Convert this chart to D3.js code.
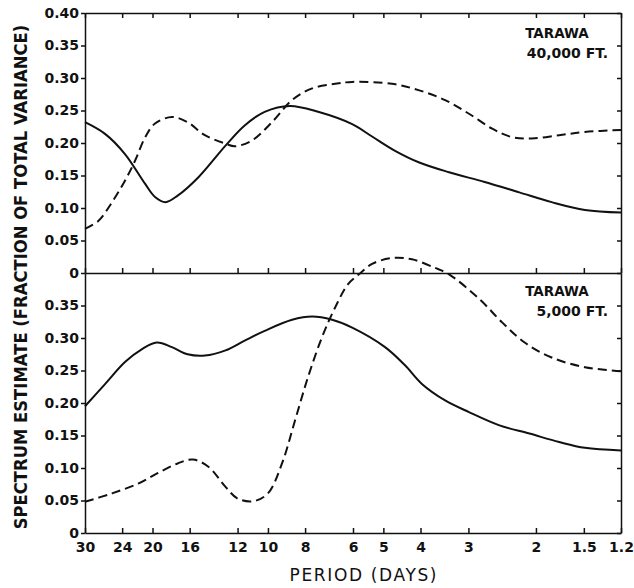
<!DOCTYPE html>
<html>
<head>
<meta charset="utf-8">
<script src="https://cdn.jsdelivr.net/npm/d3@7"></script>
<style>
  body { margin: 0; background: #fff; }
  text { fill: #111; }
</style>
</head>
<body>
<div id="chart"></div>
<script>
// x axis: period in days (log spaced)
var periodTicks = [30, 24, 20, 16, 12, 10, 8, 6, 5, 4, 3, 2, 1.5, 1.2];
var topTicks = [0, 0.05, 0.10, 0.15, 0.20, 0.25, 0.30, 0.35, 0.40];
var bottomTicks = [0, 0.05, 0.10, 0.15, 0.20, 0.25, 0.30, 0.35];
var topLabel = ["TARAWA", "40,000 FT."];
var bottomLabel = ["TARAWA", "5,000 FT."];

// 40,000 ft
var topSolidPeriod = [30, 26.6, 23.6, 20.9, 19.7, 18.5, 17.2, 15.2, 12.9, 11.5, 10.2, 8.76, 7.40, 6.03, 5.35, 4.66, 4.03, 3.37, 2.72, 2.21, 1.82, 1.49, 1.2];
var topSolidValue = [0.232, 0.214, 0.183, 0.137, 0.117, 0.109, 0.119, 0.147, 0.196, 0.227, 0.248, 0.257, 0.248, 0.229, 0.210, 0.188, 0.170, 0.155, 0.140, 0.124, 0.109, 0.097, 0.093];
var topDashPeriod = [30, 27.7, 25.5, 23.6, 22.2, 20.9, 19.7, 17.8, 16.2, 14.6, 12.9, 12.2, 11.0, 9.76, 8.65, 7.67, 6.68, 6.03, 4.75, 4.03, 3.45, 2.99, 2.60, 2.31, 2.05, 1.74, 1.49, 1.2];
var topDashValue = [0.068, 0.080, 0.109, 0.142, 0.173, 0.209, 0.230, 0.240, 0.232, 0.212, 0.199, 0.195, 0.204, 0.232, 0.266, 0.284, 0.291, 0.294, 0.291, 0.281, 0.266, 0.245, 0.222, 0.209, 0.207, 0.212, 0.217, 0.220];

// 5,000 ft
var bottomSolidPeriod = [30, 26.6, 23.6, 21.3, 19.5, 17.8, 16.2, 14.6, 12.9, 11.5, 10.2, 8.65, 7.67, 6.80, 6.03, 4.95, 4.39, 3.96, 3.45, 2.99, 2.50, 2.08, 1.74, 1.49, 1.2];
var bottomSolidValue = [0.195, 0.229, 0.263, 0.283, 0.293, 0.286, 0.275, 0.273, 0.281, 0.296, 0.311, 0.328, 0.333, 0.328, 0.316, 0.286, 0.258, 0.229, 0.204, 0.186, 0.166, 0.153, 0.140, 0.131, 0.127];
var bottomDashPeriod = [30, 25.5, 21.8, 19.4, 17.2, 15.7, 14.3, 12.9, 12.0, 10.9, 10.0, 9.19, 8.50, 7.86, 7.23, 6.68, 6.18, 5.79, 5.35, 4.75, 4.21, 3.67, 3.37, 2.81, 2.45, 2.14, 1.82, 1.49, 1.2];
var bottomDashValue = [0.048, 0.061, 0.076, 0.092, 0.107, 0.113, 0.102, 0.071, 0.053, 0.049, 0.061, 0.107, 0.173, 0.240, 0.301, 0.347, 0.383, 0.398, 0.414, 0.423, 0.421, 0.408, 0.398, 0.360, 0.324, 0.293, 0.270, 0.255, 0.249];

var svgWidth = 634;
var svgHeight = 588;
var margin = { top: 13, right: 13, bottom: 55, left: 85 };
var width = svgWidth - margin.left - margin.right;
var height = svgHeight - margin.top - margin.bottom;
var mid = height / 2;

var svg = d3.select("#chart")
  .append("svg")
  .attr("width", svgWidth)
  .attr("height", svgHeight);

var chartGroup = svg.append("g")
  .attr("transform", `translate(${margin.left}, ${margin.top})`);

var xScale = d3.scaleLog().domain([30, 1.2]).range([0, width]);
var yTop = d3.scaleLinear().domain([0, 0.4]).range([mid, 0]);
var yBottom = d3.scaleLinear().domain([0, 0.4]).range([height, mid]);

var yFormat = function(d) { return d === 0 ? "0" : d3.format(".2f")(d); };
var font = "'DejaVu Sans', sans-serif";

function styleAxis(g) {
  g.selectAll("path, line").attr("stroke", "#111").attr("stroke-width", 1.5);
  g.selectAll("text")
    .attr("font-family", font)
    .attr("font-size", 14)
    .attr("font-weight", "bold")
    .attr("fill", "#111");
}

// left axes
chartGroup.append("g")
  .call(d3.axisLeft(yTop).tickValues(topTicks).tickSize(4).tickSizeOuter(0).tickPadding(2).tickFormat(yFormat))
  .call(styleAxis);
chartGroup.append("g")
  .call(d3.axisLeft(yBottom).tickValues(bottomTicks).tickSize(4).tickSizeOuter(0).tickPadding(2).tickFormat(yFormat))
  .call(styleAxis);

// right border, ticks pointing in
chartGroup.append("g")
  .attr("transform", `translate(${width}, 0)`)
  .call(d3.axisLeft(yTop).tickValues(topTicks).tickSize(4).tickSizeOuter(0).tickFormat(""))
  .call(styleAxis);
chartGroup.append("g")
  .attr("transform", `translate(${width}, 0)`)
  .call(d3.axisLeft(yBottom).tickValues(bottomTicks).tickSize(4).tickSizeOuter(0).tickFormat(""))
  .call(styleAxis);

// top border, middle divider, bottom axis
chartGroup.append("g")
  .call(d3.axisBottom(xScale).tickValues(periodTicks).tickSize(5).tickSizeOuter(0).tickFormat(""))
  .call(styleAxis);
chartGroup.append("g")
  .attr("transform", `translate(0, ${mid})`)
  .call(d3.axisTop(xScale).tickValues(periodTicks).tickSize(5).tickSizeOuter(0).tickFormat(""))
  .call(styleAxis);
chartGroup.append("g")
  .attr("transform", `translate(0, ${height})`)
  .call(d3.axisBottom(xScale).tickValues(periodTicks).tickSizeInner(-5).tickSizeOuter(0).tickPadding(9).tickFormat(function(d) { return String(d); }))
  .call(styleAxis);

function drawCurve(periods, values, yScale, dashed) {
  var pts = periods.map(function(p, i) { return [p, values[i]]; });
  var line = d3.line()
    .x(function(d) { return xScale(d[0]); })
    .y(function(d) { return yScale(d[1]); })
    .curve(d3.curveCatmullRom.alpha(0.5));
  chartGroup.append("path")
    .datum(pts)
    .attr("d", line)
    .attr("fill", "none")
    .attr("stroke", "#111")
    .attr("stroke-width", 2)
    .attr("stroke-dasharray", dashed ? "9,5" : null);
}

drawCurve(topSolidPeriod, topSolidValue, yTop, false);
drawCurve(topDashPeriod, topDashValue, yTop, true);
drawCurve(bottomSolidPeriod, bottomSolidValue, yBottom, false);
drawCurve(bottomDashPeriod, bottomDashValue, yBottom, true);

// panel labels
function panelLabel(lines, y0) {
  chartGroup.append("text")
    .attr("x", width - 64)
    .attr("y", y0)
    .attr("text-anchor", "middle")
    .attr("font-family", font)
    .attr("font-size", 13.5)
    .attr("font-weight", "bold")
    .text(lines[0]);
  chartGroup.append("text")
    .attr("x", width - 13)
    .attr("y", y0 + 20)
    .attr("text-anchor", "end")
    .attr("font-family", font)
    .attr("font-size", 14)
    .attr("font-weight", "bold")
    .text(lines[1]);
}
panelLabel(topLabel, 25);
panelLabel(bottomLabel, mid + 23);

// axis titles
var yTitle = svg.append("text")
  .attr("text-anchor", "middle")
  .attr("font-family", font)
  .attr("font-size", 18)
  .attr("font-weight", "bold")
  .text("SPECTRUM ESTIMATE (FRACTION OF TOTAL VARIANCE)");
// squeeze along the text direction so it spans the frame height
var sx = 505 / yTitle.node().getComputedTextLength();
yTitle.attr("transform", `translate(27, ${margin.top + mid + 4}) rotate(-90) scale(${sx}, 1)`);

svg.append("text")
  .attr("x", 363)
  .attr("y", 581)
  .attr("text-anchor", "middle")
  .attr("font-family", font)
  .attr("font-size", 17)
  .attr("textLength", 147)
  .attr("lengthAdjust", "spacing")
  .text("PERIOD (DAYS)");
</script>
</body>
</html>
